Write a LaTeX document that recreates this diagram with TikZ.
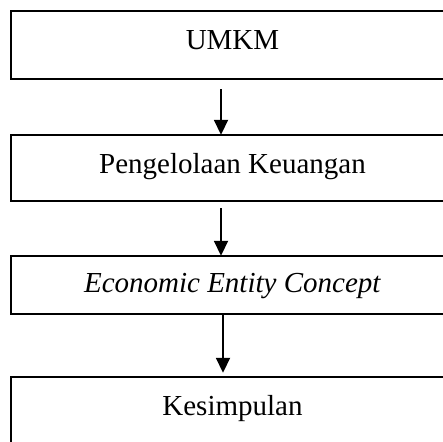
\documentclass[tikz,border=0pt]{standalone}
\usepackage{fontspec}
\setmainfont{Liberation Serif}
\usetikzlibrary{arrows.meta}
\begin{document}
\begin{tikzpicture}[
  boxstyle/.style={minimum width=443pt,inner sep=0pt,
    text height=19pt,text depth=9pt,font=\fontsize{29}{34}\selectfont},
  boxline/.style={draw=black,line width=1.8pt},
  arr/.style={draw=black,line width=1.8pt,-{Triangle[width=14pt,length=15pt]}}]
\useasboundingbox (0pt,0pt) rectangle (443pt,-441pt);
\node[boxstyle,minimum height=68pt] (b1) at (232.5pt,-45pt) {UMKM};
\node[boxstyle,minimum height=66pt] (b2) at (232.5pt,-168pt) {Pengelolaan Keuangan};
\node[boxstyle,minimum height=58pt,text height=19pt,text depth=5pt] (b3) at (232.5pt,-285pt) {\textit{Economic Entity Concept}};
\node[boxstyle,minimum height=66pt] (b4) at (232.5pt,-410pt) {Kesimpulan};
\draw[boxline] (b1.north west) rectangle (b1.south east);
\draw[boxline] (b2.north west) rectangle (b2.south east);
\draw[boxline] (b3.north west) rectangle (b3.south east);
\draw[boxline] (b4.north west) rectangle (b4.south east);
\draw[arr] ([xshift=-11.5pt,yshift=-10pt]b1.south) -- ([xshift=-11.5pt]b2.north);
\draw[arr] ([xshift=-11.5pt,yshift=-7pt]b2.south) -- ([xshift=-11.5pt]b3.north);
\draw[arr] ([xshift=-9.5pt]b3.south) -- ([xshift=-9.5pt,yshift=4pt]b4.north);
\end{tikzpicture}
\end{document}
